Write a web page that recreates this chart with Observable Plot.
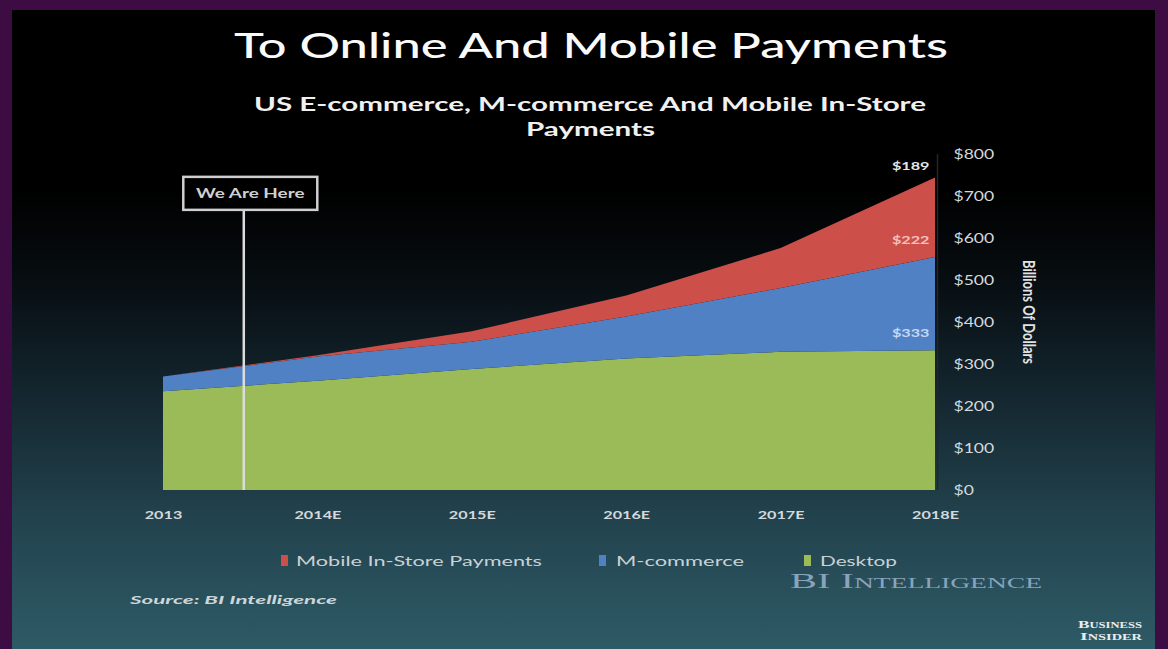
<!DOCTYPE html>
<html><head><meta charset="utf-8">
<script src="https://cdn.jsdelivr.net/npm/d3@7"></script>
<script src="https://cdn.jsdelivr.net/npm/@observablehq/plot@0.6"></script>
<style>
html,body{margin:0;padding:0;width:1168px;height:649px;overflow:hidden;background:#3d0c42;}
#panel{position:absolute;left:12px;top:10px;width:1143px;height:639px;
background:linear-gradient(180deg,#000 0%,#000 28%,#070d11 42%,#14262f 60%,#22434e 80%,#2e5b66 100%);}
.t{position:absolute;white-space:nowrap;line-height:1;transform-origin:0 50%;}
#chart{position:absolute;left:0;top:0;}
</style></head>
<body>
<div id="panel"></div>
<div id="chart"></div>
<script>
// ---- data ----
const years = [2013, 2014, 2015, 2016, 2017, 2018];
const yearLabels = ["2013", "2014E", "2015E", "2016E", "2017E", "2018E"];
const seriesNames = ["Desktop", "M-commerce", "Mobile In-Store Payments"];
const desktop = [235, 260, 288, 313, 329, 333];
const mcommerce = [35, 58, 65, 100, 152, 222];
const instore = [0, 3, 25, 50, 95, 189];
const yTicks = [0, 100, 200, 300, 400, 500, 600, 700, 800];
const endLabels = ["$333", "$222", "$189"];
const weAreHere = 2013.52;
const weAreHereLabel = "We Are Here";
const legendItems = ["Mobile In-Store Payments", "M-commerce", "Desktop"];

const seriesValues = [desktop, mcommerce, instore];
const rows = [];
seriesNames.forEach((s, k) => years.forEach((yr, i) => rows.push({year: yr, series: s, value: seriesValues[k][i]})));
const last = years.length - 1;
let cum = 0;
const endData = seriesNames.map((s, k) => { cum += seriesValues[k][last]; return {year: years[last], top: cum, label: endLabels[k], series: s}; });

const colors = ["#9bbb59", "#4f81c4", "#cd4f4a"];
const endColors = ["#c6d8f2", "#f5c2ba", "#e6e6e6"];
const endDy = [-17, -17, -12];
const SX = 1.35;

const plot = Plot.plot({
  width: 1168, height: 649,
  marginLeft: 163, marginRight: 233, marginTop: 154, marginBottom: 159,
  style: {background: "transparent", color: "#d4d9dc", fontFamily: "Lato", overflow: "visible"},
  x: {type: "linear", domain: [2013, 2018]},
  y: {domain: [0, 800]},
  color: {domain: seriesNames, range: colors},
  marks: [
    Plot.areaY(rows, {x: "year", y: "value", fill: "series", z: "series", curve: "linear"}),
    Plot.ruleX([years[last]], {y1: 0, y2: 800, stroke: "#262626", strokeWidth: 1.5, dx: 2}),
    Plot.ruleX([weAreHere], {y1: 0, y2: 667, stroke: "#dcdcdc", strokeWidth: 2.5}),
    Plot.axisX({ticks: years, tickFormat: (d) => yearLabels[years.indexOf(d)], tickSize: 0, tickPadding: 20,
      fontSize: 12, fontWeight: "bold", fill: "#d4d9dc", label: null}),
    Plot.axisY({anchor: "right", ticks: yTicks, tickFormat: (d) => "$" + d, tickSize: 0, tickPadding: 18,
      fontSize: 13, fill: "#d4d9dc", label: null}),
    ...endData.map((d, k) => Plot.text([d], {x: "year", y: "top", text: "label", textAnchor: "end", dx: -6, dy: endDy[k],
      fontSize: 12, fontWeight: "bold", fill: endColors[k]}))
  ]
});
document.getElementById("chart").appendChild(plot);

const svg = d3.select(plot);
// horizontal stretch of all svg texts, to match the reference's wide glyphs
svg.selectAll("text").each(function() {
  const t = this.getAttribute("transform");
  if (t) this.setAttribute("transform", t + ` scale(${SX},1)`);
});
const sx = plot.scale("x"), sy = plot.scale("y");
const px = sx.apply(weAreHere), lineTop = sy.apply(667);
const g = svg.append("g");
g.append("rect").attr("x", px - 60).attr("y", lineTop - 33).attr("width", 134).attr("height", 33)
  .attr("fill", "#000").attr("stroke", "#cfcfcf").attr("stroke-width", 2.5);
g.append("text").attr("transform", `translate(${px + 7},${lineTop - 16.5}) scale(${SX},1)`)
  .attr("text-anchor", "middle").attr("dominant-baseline", "central")
  .attr("font-family", "Lato").attr("font-weight", "bold").attr("font-size", 14).attr("fill", "#d0d0d0")
  .text(weAreHereLabel);
// right axis title
g.append("text").attr("transform", `translate(1030,312) scale(${SX},1) rotate(90)`)
  .attr("text-anchor", "middle").attr("dominant-baseline", "central")
  .attr("font-family", "Lato").attr("font-weight", "bold").attr("font-size", 13).attr("fill", "#e2e2e2")
  .text("Billions Of Dollars");

// ---- HTML texts ----
function place(text, o) {
  const el = document.createElement("div");
  el.className = "t";
  el.textContent = text;
  Object.assign(el.style, {fontFamily: o.family || "Lato", fontSize: o.size + "px", fontWeight: o.weight || "normal",
    fontStyle: o.style || "normal", color: o.color || "#fff", fontVariant: o.variant || "normal", letterSpacing: (o.ls || 0) + "px"});
  document.body.appendChild(el);
  const r = el.getBoundingClientRect();
  const s = o.scale !== undefined ? o.scale : o.width / r.width;
  const w = r.width * s;
  const left = o.left !== undefined ? o.left : o.cx - w / 2;
  el.style.left = left + "px";
  el.style.top = (o.cy - r.height / 2) + "px";
  el.style.transform = `scaleX(${s})`;
  el.dataset.scale = s;
  return el;
}
place("To Online And Mobile Payments", {cx: 591, cy: 45, size: 34, weight: 500, width: 714, color: "#fafafa"});
const sub = place("US E-commerce, M-commerce And Mobile In-Store", {cx: 590, cy: 103, size: 19, weight: "bold", width: 672, color: "#f0f0f0"});
place("Payments", {cx: 590, cy: 128, size: 19, weight: "bold", scale: +sub.dataset.scale, color: "#f0f0f0"});

const legLeft = [[281, 296, 246], [599, 616, 128], [804, 820, 77]];
legendItems.forEach((name, i) => {
  const sw = document.createElement("div");
  const col = colors[seriesNames.indexOf(name)];
  Object.assign(sw.style, {position: "absolute", left: legLeft[i][0] + "px", top: "555px", width: "7px", height: "11px", background: col});
  document.body.appendChild(sw);
  place(name, {left: legLeft[i][1], cy: 561, size: 13, width: legLeft[i][2], color: "#c9d2d6"});
});
place("Source: BI Intelligence", {left: 130, cy: 600, size: 12, weight: "bold", style: "italic", width: 207, color: "#cdd6da"});
place("BI Intelligence", {left: 790, cy: 581, size: 22, family: "Liberation Serif", variant: "small-caps", width: 252, color: "#8aa3bd"});
place("Business", {left: 1078, cy: 624, size: 11, weight: "bold", family: "Liberation Serif", variant: "small-caps", width: 64, color: "#e8eef0"});
place("Insider", {left: 1080, cy: 636, size: 11, weight: "bold", family: "Liberation Serif", variant: "small-caps", width: 62, color: "#e8eef0"});
</script>
</body></html>
